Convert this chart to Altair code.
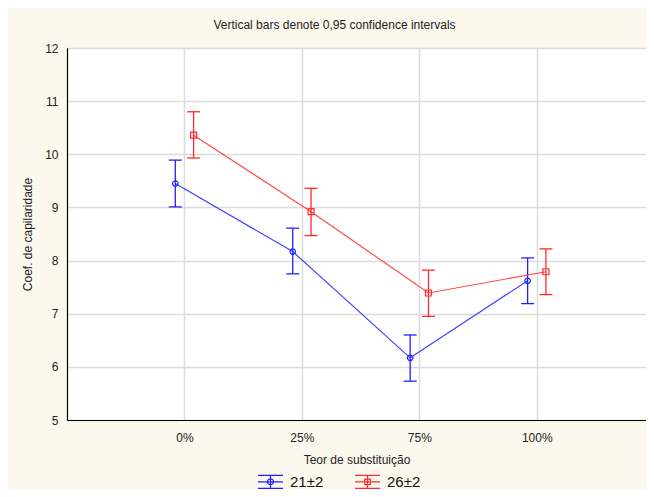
import altair as alt
import pandas as pd

categories = ["0%", "25%", "75%", "100%"]
series_names = ["21±2", "26±2"]
mean_21 = [9.45, 8.17, 6.17, 7.62]
low_21 = [9.01, 7.75, 5.73, 7.19]
high_21 = [9.89, 8.61, 6.60, 8.05]
mean_26 = [10.36, 8.92, 7.39, 7.79]
low_26 = [9.93, 8.47, 6.95, 7.36]
high_26 = [10.80, 9.36, 7.82, 8.22]
colors = ["#2020ff", "#ff2a2a"]

rows = []
for name, m, lo, hi in [(series_names[0], mean_21, low_21, high_21),
                        (series_names[1], mean_26, low_26, high_26)]:
    for i, c in enumerate(categories):
        rows.append({"series": name, "cat": c, "idx": i, "mean": m[i], "lo": lo[i], "hi": hi[i]})
df = pd.DataFrame(rows)

FONT = "Liberation Sans"
label_expr = "[" + ",".join(f"'{c}'" for c in categories) + "][datum.value]"

xaxis = alt.Axis(values=[0, 1, 2, 3], labelExpr=label_expr, title="Teor de substituição",
                 ticks=False, labelPadding=12, titlePadding=11)
yaxis = alt.Axis(values=list(range(5, 13)), title="Coef. de capilaridade", format="d",
                 ticks=False, labelPadding=9, titlePadding=10)
xscale = alt.Scale(domain=[-1, 3.93], nice=False, zero=False)
yscale = alt.Scale(domain=[5, 12], nice=False, zero=False)


def X():
    return alt.X("xpos:Q", scale=xscale, axis=xaxis)


def Y(field):
    return alt.Y(f"{field}:Q", scale=yscale, axis=yaxis)


def C():
    return alt.Color("series:N", scale=alt.Scale(domain=series_names, range=colors), legend=None)


base = alt.Chart(df).transform_calculate(
    xpos=f"datum.idx + (datum.series == '{series_names[0]}' ? -0.078 : 0.078)"
)

rules = base.mark_rule(strokeWidth=1.3).encode(x=X(), y=Y("lo"), y2="hi:Q", color=C())
cap_lo = base.mark_tick(orient="horizontal", size=13, thickness=1.3, opacity=1).encode(
    x=X(), y=Y("lo"), color=C())
cap_hi = base.mark_tick(orient="horizontal", size=13, thickness=1.3, opacity=1).encode(
    x=X(), y=Y("hi"), color=C())
line = base.mark_line(strokeWidth=1.2, opacity=0.85).encode(
    x=X(), y=Y("mean"), color=C(), detail="series:N", order="idx:Q")
circles = base.transform_filter(f"datum.series == '{series_names[0]}'").mark_point(
    shape="circle", filled=False, size=30, strokeWidth=1.2, opacity=1).encode(
    x=X(), y=Y("mean"), color=C())
squares = base.transform_filter(f"datum.series == '{series_names[1]}'").mark_point(
    shape="square", filled=False, size=36, strokeWidth=1.2, opacity=1).encode(
    x=X(), y=Y("mean"), color=C())

glyph_circle = ("M-1,-0.52H1M-1,0.52H1M-1,0H1M0,-0.52V0.52"
                "M0.24,0A0.24,0.24,0,1,1,-0.24,0A0.24,0.24,0,1,1,0.24,0")
glyph_square = ("M-1,-0.52H1M-1,0.52H1M-1,0H1M0,-0.52V0.52"
                "M-0.22,-0.22H0.22V0.22H-0.22Z")

leg = alt.Legend(title=None, orient="none", direction="horizontal", legendX=190, legendY=420,
                 symbolSize=625, symbolStrokeWidth=1.2, labelFontSize=15, labelFont=FONT,
                 labelColor="#111", labelOffset=6, columnPadding=28, padding=0)
legend_layer = base.transform_calculate(leg="datum.series").mark_point(
    filled=False, opacity=0).encode(
    x=X(), y=Y("mean"),
    color=alt.Color("leg:N", scale=alt.Scale(domain=series_names, range=colors), legend=leg),
    shape=alt.Shape("leg:N", scale=alt.Scale(domain=series_names, range=[glyph_circle, glyph_square]),
                    legend=leg))

chart = alt.layer(rules, cap_lo, cap_hi, line, circles, squares, legend_layer).resolve_scale(
    color="independent", shape="independent"
).properties(
    width=579, height=372,
    autosize=alt.AutoSizeParams(type="none"),
    padding={"left": 59, "top": 40, "right": 0, "bottom": 69},
    background="#fdf8ed",
    title=alt.Title("Vertical bars denote 0,95 confidence intervals", fontSize=12, font=FONT,
                    fontWeight="normal", color="#222", anchor="middle", dx=-22, offset=10),
).configure_view(stroke="black", strokeWidth=1, fill="white").configure_axis(
    gridColor="#dcdcdc", gridWidth=1.5, labelFont=FONT, titleFont=FONT, labelFontSize=12,
    titleFontSize=12, labelColor="#222", titleColor="#222", titleFontWeight="normal",
    domainColor="black", domainWidth=1.2).configure_legend(symbolOpacity=1)

chart.save("out.html", embed_options={"renderer": "svg", "actions": False})
